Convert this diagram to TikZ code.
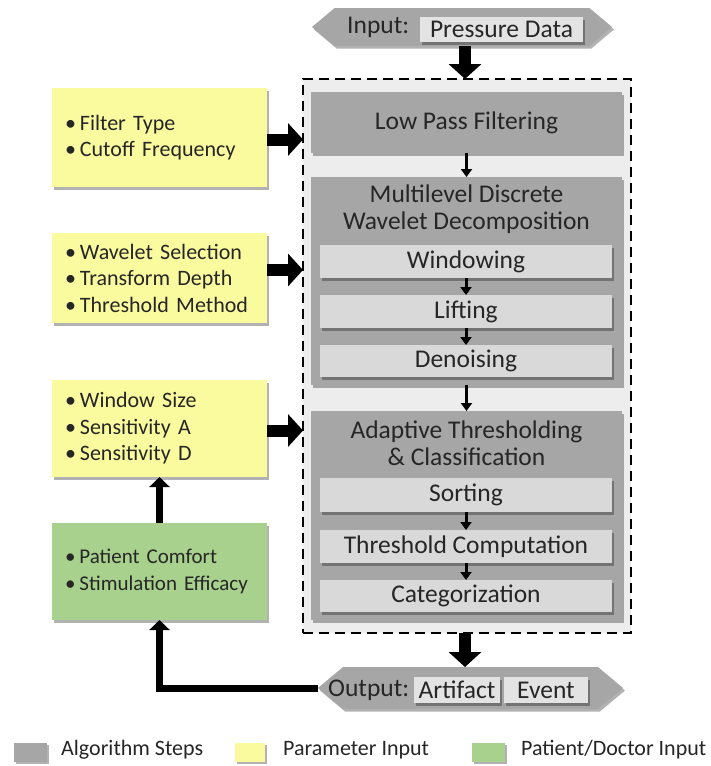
\documentclass[tikz,border=0pt]{standalone}
\usepackage{fontspec}
\setmainfont{Carlito}
\usetikzlibrary{arrows.meta,shapes.symbols,shadows}
\definecolor{algo}{HTML}{A6A6A6}
\definecolor{subc}{HTML}{D9D9D9}
\definecolor{param}{HTML}{FAFA9E}
\definecolor{pat}{HTML}{A9D18E}
\definecolor{bgc}{HTML}{EDEDED}
\definecolor{txt}{HTML}{262626}
\definecolor{hexc}{HTML}{A6A6A6}
\definecolor{hexin}{HTML}{E3E3E3}
\begin{document}
\begin{tikzpicture}[x=1pt,y=-1pt,
  shad/.style={drop shadow={shadow xshift=2pt,shadow yshift=-2.5pt,opacity=0.3,fill=black}},
  algobox/.style={fill=algo,draw=none,shad,inner sep=0pt,outer sep=0pt,minimum width=311pt},
  subbox/.style={fill=subc,draw=none,shad,inner sep=0pt,outer sep=0pt,minimum width=292pt,text=txt,font=\fontsize{25.5}{28}\selectfont},
  headtxt/.style={text=txt,font=\fontsize{25.5}{27}\selectfont,align=center,inner sep=0pt},
  parbox/.style={fill=param,draw=none,shad,inner xsep=13pt,inner ysep=0pt,outer sep=0pt,text width=189pt,text=txt,
     font=\fontsize{22}{26.5}\selectfont,align=left},
  patbox/.style={parbox,fill=pat,font=\fontsize{21}{26.5}\selectfont},
  hexbox/.style={signal,signal to=west and east,signal pointer angle=80,fill=hexc,draw=none,shad,inner sep=0pt,outer sep=0pt},
  inbox/.style={fill=hexin,draw=none,shad,inner sep=0pt,outer sep=0pt,text=txt,font=\fontsize{25.5}{28}\selectfont},
  hexlbl/.style={anchor=west,text=txt,font=\fontsize{25.5}{28}\selectfont,inner sep=0pt},
  bigarrow/.style={line width=12pt,-{Triangle[width=32pt,length=15pt]}},
  smallarrow/.style={line width=3pt,-{Triangle[width=11pt,length=8pt]}},
  fbarrow/.style={line width=7pt,-{Triangle[width=20pt,length=10pt]}},
  legsq/.style={draw=none,shad,minimum width=33pt,minimum height=19pt,inner sep=0pt},
  legtxt/.style={anchor=west,text=txt,font=\fontsize{22}{26}\selectfont,inner sep=0pt}
]
\useasboundingbox (0,0) rectangle (710,766);
\fill[white] (0,0) rectangle (710,766);

% dashed container
\node[draw=black,dashed,dash pattern=on 10pt off 6pt,line width=1.6pt,fill=bgc,
  minimum width=328pt,minimum height=554pt,inner sep=0pt,outer sep=0pt] (cont) at (467,356) {};

% algorithm steps
\node[algobox,minimum height=61pt,text=txt,font=\fontsize{25.5}{28}\selectfont] (lpf) at (466.5,122.5) {Low Pass Filtering};
\node[algobox,minimum height=208pt] (mdwd) at (466.5,281) {};
\node[headtxt] (mdwdt) at (466.5,209) {Multilevel Discrete\\Wavelet Decomposition};
\node[subbox,minimum height=33pt] (win) at (466,261.5) {Windowing};
\node[subbox,minimum height=33pt] (lift) at (466,311.5) {Lifting};
\node[subbox,minimum height=32pt] (den) at (466,361) {Denoising};

\node[algobox,minimum height=209pt] (atc) at (466.5,515.5) {};
\node[headtxt] (atct) at (466.5,443) {Adaptive Thresholding\\\& Classification};
\node[subbox,minimum height=34pt] (sort) at (466,495) {Sorting};
\node[subbox,minimum height=33pt] (thr) at (466,546.5) {Threshold Computation};
\node[subbox,minimum height=32pt] (cat) at (466,596) {Categorization};

\draw[smallarrow] (lpf.south) -- (mdwd.north);
\draw[smallarrow] (win.south) -- (lift.north);
\draw[smallarrow] (lift.south) -- (den.north);
\draw[smallarrow] (mdwd.south) -- (atc.north);
\draw[smallarrow] (sort.south) -- (thr.north);
\draw[smallarrow] (thr.south) -- (cat.north);

% input hexagon
\node[hexbox,minimum width=300pt,minimum height=38pt] (inhex) at (462,27) {};
\node[hexlbl] (inlbl) at (347,27) {Input:};
\node[inbox,minimum width=163pt,minimum height=25pt] (pdata) at (501.5,29.5) {Pressure Data};
\draw[bigarrow] (inhex.south) ++(3,0) coordinate (ia) (ia) -- (ia |- cont.north);

% output hexagon
\node[hexbox,minimum width=305pt,minimum height=42pt] (outhex) at (470.5,688) {};
\node[hexlbl] (outlbl) at (328,690) {Output:};
\node[inbox,minimum width=86pt,minimum height=26pt] (art) at (457,690) {Artifact};
\node[inbox,minimum width=84pt,minimum height=26pt] (evt) at (546,690) {Event};
\coordinate (oa) at (465,633);
\draw[bigarrow] (oa) -- (oa |- outhex.north);

% parameter boxes
\node[parbox,minimum height=99pt] (p1) at (159.5,137.5) {\textbullet\hspace{4pt}Filter Type\\\textbullet\hspace{4pt}Cutoff Frequency};
\node[parbox,minimum height=90pt] (p2) at (159.5,278) {\textbullet\hspace{4pt}Wavelet Selection\\\textbullet\hspace{4pt}Transform Depth\\\textbullet\hspace{4pt}Threshold Method};
\node[parbox,minimum height=97pt] (p3) at (159.5,428.5) {\textbullet\hspace{4pt}Window Size\\\textbullet\hspace{4pt}Sensitivity A\\\textbullet\hspace{4pt}Sensitivity D};
\node[patbox,minimum height=97pt] (pd) at (159.5,571.5) {\mbox{\textbullet\hspace{4pt}Patient Comfort}\\\mbox{\textbullet\hspace{4pt}Stimulation Efficacy}};

\draw[bigarrow] (p1.east) ++(0,2) coordinate (a1) (a1) -- (a1 -| cont.west);
\draw[bigarrow] (p2.east) ++(0,-8) coordinate (a2) (a2) -- (a2 -| cont.west);
\draw[bigarrow] (p3.east) ++(0,2) coordinate (a3) (a3) -- (a3 -| cont.west);

\draw[fbarrow] (pd.north) -- (p3.south);
\draw[fbarrow] (outhex.west) -| (pd.south);

% legend
\node[legsq,fill=algo] (lg1) at (30,752) {};
\node[legtxt] (lt1) at (61,750) {Algorithm Steps};
\node[legsq,fill=param,minimum width=30pt] (lg2) at (250,752) {};
\node[legtxt] (lt2) at (283,750) {Parameter Input};
\node[legsq,fill=pat] (lg3) at (488,752) {};
\node[legtxt] (lt3) at (521,750) {Patient/Doctor Input};
\end{tikzpicture}
\end{document}
